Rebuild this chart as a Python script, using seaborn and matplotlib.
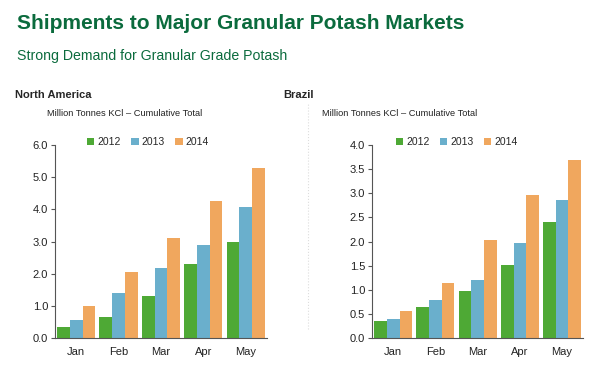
import numpy as np
import pandas as pd
import matplotlib
matplotlib.use('Agg')
import matplotlib.pyplot as plt
from matplotlib.ticker import FormatStrFormatter, MultipleLocator
import seaborn as sns

months = ['Jan', 'Feb', 'Mar', 'Apr', 'May']
years = ['2012', '2013', '2014']

# million tonnes KCl, cumulative
na_2012 = [0.35, 0.66, 1.32, 2.31, 2.99]
na_2013 = [0.57, 1.41, 2.18, 2.90, 4.07]
na_2014 = [1.00, 2.06, 3.11, 4.25, 5.28]

br_2012 = [0.36, 0.65, 0.97, 1.52, 2.41]
br_2013 = [0.40, 0.79, 1.21, 1.97, 2.86]
br_2014 = [0.56, 1.15, 2.03, 2.96, 3.70]

colors = ['#4ea935', '#6aafcc', '#f0a75e']
green = '#0b6b3d'

sns.set_style('white')
plt.rcParams['font.family'] = ['Liberation Sans', 'DejaVu Sans']


def to_long(vals):
    rows = []
    for y, v in zip(years, vals):
        for m, x in zip(months, v):
            rows.append({'month': m, 'year': y, 'value': x})
    return pd.DataFrame(rows)


def draw(ax, df, ymax, step, leg_x):
    sns.barplot(data=df, x='month', y='value', hue='year', palette=colors,
                width=0.9, ax=ax, saturation=1, linewidth=0)
    ax.set_ylim(0, ymax)
    ax.set_xlim(-0.5, 4.5)
    ax.yaxis.set_major_locator(MultipleLocator(step))
    ax.yaxis.set_major_formatter(FormatStrFormatter('%.1f'))
    ax.set_xlabel('')
    ax.set_ylabel('')
    sns.despine(ax=ax)
    for s in ['left', 'bottom']:
        ax.spines[s].set_color('#555555')
        ax.spines[s].set_linewidth(0.8)
    ax.tick_params(axis='y', left=True, length=3, width=0.8, color='#555555',
                   labelsize=8, pad=2, labelcolor='#222222')
    ax.tick_params(axis='x', bottom=False, labelsize=8, pad=3, labelcolor='#222222')
    ax.legend(loc='center', bbox_to_anchor=(leg_x, 1.015), ncol=3, frameon=False,
              fontsize=7.5, handlelength=0.7, handleheight=0.7, handletextpad=0.3,
              columnspacing=1.0, borderpad=0)


fig = plt.figure(figsize=(6.05, 3.82), dpi=100)
ax1 = fig.add_axes([0.0909, 0.1152, 0.350, 0.505])
ax2 = fig.add_axes([0.615, 0.1152, 0.349, 0.505])

draw(ax1, to_long([na_2012, na_2013, na_2014]), 6.0, 1.0, 0.44)
draw(ax2, to_long([br_2012, br_2013, br_2014]), 4.0, 0.5, 0.40)

fig.text(0.028, 0.925, 'Shipments to Major Granular Potash Markets', fontsize=15,
         fontweight='bold', color=green, va='baseline')
fig.text(0.028, 0.844, 'Strong Demand for Granular Grade Potash', fontsize=10.2,
         color=green, va='baseline')
fig.text(0.025, 0.744, 'North America', fontsize=8, fontweight='bold', va='baseline')
fig.text(0.469, 0.744, 'Brazil', fontsize=8, fontweight='bold', va='baseline')
fig.text(0.078, 0.697, 'Million Tonnes KCl \u2013 Cumulative Total', fontsize=6.7,
         va='baseline', color='#222222')
fig.text(0.532, 0.697, 'Million Tonnes KCl \u2013 Cumulative Total', fontsize=6.7,
         va='baseline', color='#222222')

# dotted separator between the two panels
fig.add_artist(plt.Line2D([0.509, 0.509], [0.14, 0.73], transform=fig.transFigure,
                          color='#dddddd', linewidth=0.8, linestyle=':'))

fig.savefig('out.png', dpi=100)
